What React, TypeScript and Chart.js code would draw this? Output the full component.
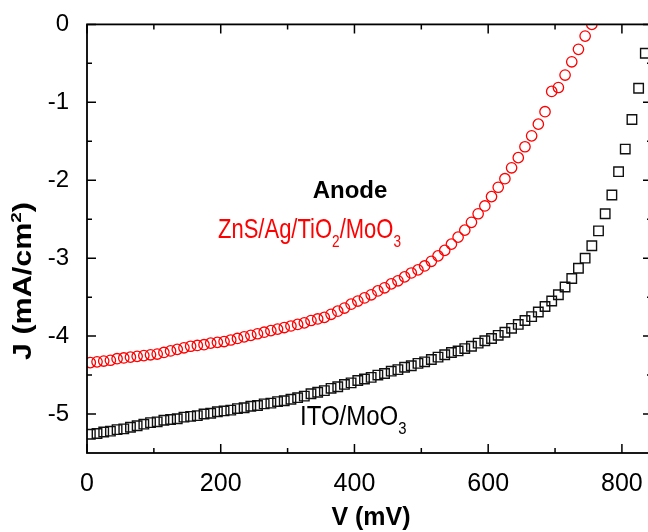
import React, { useEffect, useRef } from "react";
import { Chart, registerables } from "chart.js";

Chart.register(...registerables);

const FONT = '"Liberation Sans", Arial, Helvetica, sans-serif';

// ZnS/Ag/TiO2/MoO3 anode (red circles)
const redV = [5, 15, 25, 35, 45, 55, 65, 75, 85, 95, 105, 115, 125, 135, 145, 155, 165, 175, 185, 195, 205, 215, 225, 235, 245, 255, 265, 275, 285, 295, 305, 315, 325, 335, 345, 355, 365, 375, 385, 395, 405, 415, 425, 435, 445, 455, 465, 475, 485, 495, 505, 515, 525, 535, 545, 555, 565, 575, 585, 595, 605, 615, 625, 635, 645, 655, 665, 675, 685, 695, 705, 715, 725, 735, 745, 755];
const redJ = [
  -4.34, -4.33, -4.32, -4.31, -4.29, -4.28, -4.27, -4.26, -4.25, -4.24,
  -4.23, -4.21, -4.19, -4.17, -4.15, -4.13, -4.12, -4.11, -4.09, -4.08,
  -4.07, -4.05, -4.03, -4.01, -3.99, -3.97, -3.95, -3.93, -3.91, -3.89,
  -3.87, -3.85, -3.83, -3.80, -3.78, -3.76, -3.72, -3.68, -3.64, -3.59,
  -3.55, -3.51, -3.47, -3.42, -3.38, -3.33, -3.29, -3.24, -3.19, -3.15,
  -3.10, -3.04, -2.97, -2.90, -2.82, -2.73, -2.64, -2.54, -2.43, -2.33,
  -2.21, -2.09, -1.98, -1.84, -1.71, -1.57, -1.43, -1.28, -1.12, -0.86,
  -0.81, -0.65, -0.48, -0.32, -0.15, 0.0,
];

// ITO/MoO3 anode (black squares)
const blackV = [5, 15, 25, 35, 45, 55, 65, 75, 85, 95, 105, 115, 125, 135, 145, 155, 165, 175, 185, 195, 205, 215, 225, 235, 245, 255, 265, 275, 285, 295, 305, 315, 325, 335, 345, 355, 365, 375, 385, 395, 405, 415, 425, 435, 445, 455, 465, 475, 485, 495, 505, 515, 525, 535, 545, 555, 565, 575, 585, 595, 605, 615, 625, 635, 645, 655, 665, 675, 685, 695, 705, 715, 725, 735, 745, 755, 765, 775, 785, 795, 805, 815, 825, 835];
const blackJ = [
  -5.26, -5.25, -5.23, -5.22, -5.20, -5.19, -5.17, -5.15, -5.13, -5.11,
  -5.10, -5.08, -5.07, -5.06, -5.04, -5.03, -5.02, -5.00, -4.99, -4.97,
  -4.96, -4.95, -4.93, -4.92, -4.90, -4.89, -4.87, -4.86, -4.84, -4.83,
  -4.81, -4.79, -4.77, -4.74, -4.72, -4.70, -4.67, -4.65, -4.62, -4.60,
  -4.57, -4.55, -4.53, -4.50, -4.48, -4.45, -4.43, -4.40, -4.38, -4.35,
  -4.33, -4.30, -4.27, -4.24, -4.21, -4.19, -4.16, -4.13, -4.09, -4.06,
  -4.03, -3.99, -3.95, -3.90, -3.85, -3.80, -3.75, -3.69, -3.62, -3.55,
  -3.47, -3.37, -3.26, -3.13, -3.00, -2.84, -2.65, -2.43, -2.19, -1.89,
  -1.60, -1.22, -0.82, -0.37,
];

const xMajorTicks = [0, 200, 400, 600, 800];
const xMinorTicks = [100, 300, 500, 700];
const yMajorTicks = [0, -1, -2, -3, -4, -5];
const yMinorTicks = [-0.5, -1.5, -2.5, -3.5, -4.5];

type Seg = { t: string; s?: "sub" | "sup" };
const xTitle: Seg[] = [{ t: "V (mV)" }];
const yTitle: Seg[] = [{ t: "J (mA/cm" }, { t: "2", s: "sup" }, { t: ")" }];
const anodeLabel: Seg[] = [{ t: "Anode" }];
const redLabel: Seg[] = [
  { t: "ZnS/Ag/TiO" },
  { t: "2", s: "sub" },
  { t: "/MoO" },
  { t: "3", s: "sub" },
];
const blackLabel: Seg[] = [{ t: "ITO/MoO" }, { t: "3", s: "sub" }];

const CW = 680;
const CH = 532;

function drawRich(
  ctx: CanvasRenderingContext2D,
  segs: Seg[],
  x: number,
  y: number,
  size: number,
  weight: string,
  color: string,
  align: "left" | "center",
  sy = 1,
  rot = 0,
  sx = 1
) {
  const small = size * 0.62;
  const fMain = `${weight} ${size}px ${FONT}`;
  const fSmall = `${weight} ${small}px ${FONT}`;
  let w = 0;
  for (const s of segs) {
    ctx.font = s.s ? fSmall : fMain;
    w += ctx.measureText(s.t).width;
  }
  ctx.save();
  ctx.translate(x, y);
  if (rot) ctx.rotate(rot);
  ctx.scale(sx, sy);
  ctx.fillStyle = color;
  ctx.textAlign = "left";
  ctx.textBaseline = "alphabetic";
  let cx = align === "center" ? -w / 2 : 0;
  for (const s of segs) {
    ctx.font = s.s ? fSmall : fMain;
    const dy = s.s === "sub" ? size * 0.32 : s.s === "sup" ? -size * 0.42 : 0;
    ctx.fillText(s.t, cx, dy);
    cx += ctx.measureText(s.t).width;
  }
  ctx.restore();
}

const framePlugin = {
  id: "frameTicks",
  afterDatasetsDraw(chart: any) {
    const { ctx, chartArea: a, scales } = chart;
    const xs = scales.x;
    const ys = scales.y;
    ctx.save();
    ctx.strokeStyle = "#000";
    ctx.lineWidth = 1.8;
    ctx.strokeRect(a.left, a.top, a.right - a.left, a.bottom - a.top);
    ctx.lineWidth = 1.5;
    ctx.beginPath();
    const xt = (vals: number[], len: number) => {
      for (const v of vals) {
        const p = xs.getPixelForValue(v);
        ctx.moveTo(p, a.bottom);
        ctx.lineTo(p, a.bottom - len);
        ctx.moveTo(p, a.top);
        ctx.lineTo(p, a.top + len);
      }
    };
    const yt = (vals: number[], len: number) => {
      for (const v of vals) {
        const p = ys.getPixelForValue(v);
        ctx.moveTo(a.left, p);
        ctx.lineTo(a.left + len, p);
        ctx.moveTo(a.right, p);
        ctx.lineTo(a.right - len, p);
      }
    };
    xt(xMajorTicks, 9);
    xt(xMinorTicks, 5);
    yt(yMajorTicks, 9);
    yt(yMinorTicks, 5);
    ctx.stroke();
    ctx.restore();

    drawRich(ctx, xTitle, 371, 525, 25, "bold", "#000", "center");
    drawRich(ctx, yTitle, 31, 281, 25, "bold", "#000", "center", 1, -Math.PI / 2, 1.22);
    drawRich(ctx, anodeLabel, 350, 198, 24, "bold", "#000", "center");
    drawRich(ctx, redLabel, 218, 238, 22, "normal", "#ff0000", "left", 1.22);
    drawRich(ctx, blackLabel, 300, 425, 24, "normal", "#000", "left", 1.15);
  },
};

export default function App() {
  const ref = useRef<HTMLCanvasElement>(null);
  useEffect(() => {
    const redData = redV.map((v, i) => ({ x: v, y: redJ[i] }));
    const blackData = blackV.map((v, i) => ({ x: v, y: blackJ[i] }));
    const chart = new Chart(ref.current as HTMLCanvasElement, {
      type: "scatter",
      data: {
        datasets: [
          {
            label: "ITO/MoO3",
            data: blackData,
            pointStyle: "rect",
            pointRadius: 6.7,
            pointBorderWidth: 1.4,
            borderColor: "#111",
            backgroundColor: "rgba(0,0,0,0)",
            showLine: false,
            clip: 0,
          } as any,
          {
            label: "ZnS/Ag/TiO2/MoO3",
            data: redData,
            pointStyle: "circle",
            pointRadius: 5.2,
            pointBorderWidth: 1.3,
            borderColor: "#ff0000",
            backgroundColor: "rgba(0,0,0,0)",
            showLine: false,
            clip: 0,
          } as any,
        ],
      },
      options: {
        responsive: false,
        animation: false,
        events: [],
        layout: { padding: { top: 23, right: CW - 652, bottom: 0, left: 0 } },
        plugins: { legend: { display: false }, tooltip: { enabled: false } },
        scales: {
          x: {
            type: "linear",
            min: 0,
            max: 845,
            grid: { display: false },
            border: { display: false },
            afterFit: (s: any) => {
              s.height = CH - 453;
            },
            afterBuildTicks: (s: any) => {
              s.ticks = xMajorTicks.map((v) => ({ value: v }));
            },
            ticks: {
              padding: 8,
              color: "#000",
              font: { family: FONT, size: 25 },
              callback: (v: any) => String(v),
              maxRotation: 0,
            },
          },
          y: {
            type: "linear",
            min: -5.5,
            max: 0,
            grid: { display: false },
            border: { display: false },
            afterFit: (s: any) => {
              s.width = 87;
            },
            afterBuildTicks: (s: any) => {
              s.ticks = yMajorTicks.map((v) => ({ value: v }));
            },
            ticks: {
              padding: 10,
              color: "#000",
              font: { family: FONT, size: 24 },
              callback: (v: any) => String(v),
            },
          },
        },
      },
      plugins: [framePlugin],
    });
    return () => chart.destroy();
  }, []);
  return (
    <div
      style={{
        position: "fixed",
        left: 0,
        top: 0,
        width: 648,
        height: 532,
        overflow: "hidden",
        background: "#fff",
      }}
    >
      <canvas ref={ref} width={CW} height={CH} style={{ display: "block" }} />
    </div>
  );
}
